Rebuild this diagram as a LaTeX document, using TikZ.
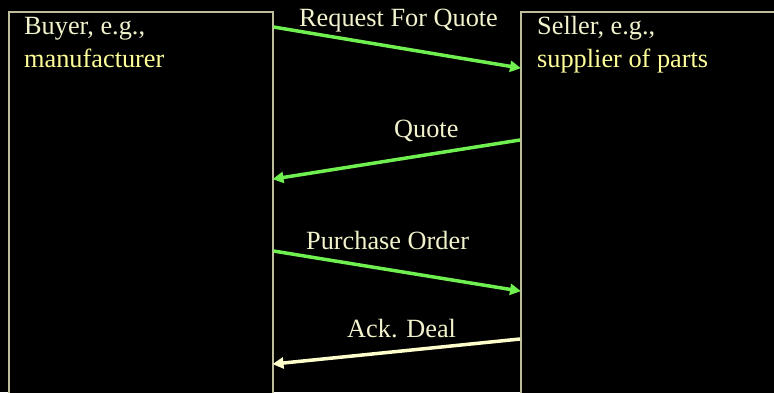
\documentclass[tikz,border=0pt]{standalone}
\usepackage{fontspec}
\setmainfont{Liberation Serif}
\usepackage{xcolor}
\usetikzlibrary{arrows.meta, positioning}
\definecolor{boxline}{HTML}{BEBE9E}
\definecolor{creamtext}{HTML}{F2F2CC}
\definecolor{yellowtext}{HTML}{FFFF99}
\definecolor{msggreen}{HTML}{70F050}
\definecolor{msgcream}{HTML}{FFFFCC}

\tikzset{
  party/.style={draw=boxline, line width=1.5pt, fill=black, anchor=north west, minimum height=420pt, inner sep=0pt},
  partytext/.style={anchor=base west, inner sep=0pt, align=left, font=\fontsize{26.3}{33}\selectfont},
  msglabel/.style={anchor=base west, inner sep=0pt, text=creamtext, font=\fontsize{26.3}{30}\selectfont},
  msg/.style={line width=3.5pt, -{Triangle[length=11pt, width=11pt]}, shorten >=-1pt},
}

\begin{document}
\begin{tikzpicture}[x=1pt, y=1pt]
        \fill[black] (0,0) rectangle (774,-392);
        \useasboundingbox (0,0) rectangle (774,-392);
        \clip (0,0) rectangle (774,-392);

        % the two parties
        \node[party, minimum width=264pt] (buyer) at (8,-11) {};
        \node[party, minimum width=300pt] (seller) at (520,-11) {};
        \node[partytext] (buyertext) at (24,-67) {\textcolor{creamtext}{Buyer, e.g.,}\\\textcolor{yellowtext}{manufacturer}};
        \node[partytext] (sellertext) at (537,-67) {\textcolor{creamtext}{Seller, e.g.,}\\\textcolor{yellowtext}{supplier of parts}};

        % end points of the messages
        \coordinate (rfqa) at ([yshift=-16pt]buyer.north east);
        \coordinate (rfqb) at ([yshift=-57pt]seller.north west);
        \coordinate (quotea) at ([yshift=-129pt]seller.north west);
        \coordinate (quoteb) at ([yshift=-168pt]buyer.north east);
        \coordinate (poa) at ([yshift=-240pt]buyer.north east);
        \coordinate (pob) at ([yshift=-280pt]seller.north west);
        \coordinate (acka) at ([yshift=-328pt]seller.north west);
        \coordinate (ackb) at ([yshift=-353pt]buyer.north east);

        \draw[msg, msggreen] (rfqa) -- (rfqb);
        \draw[msg, msggreen] (quotea) -- (quoteb);
        \draw[msg, msggreen] (poa) -- (pob);
        \draw[msg, msgcream] (acka) -- (ackb);

        \node[msglabel] (rfq) at (299,-26) {Request For Quote};
        \node[msglabel] (quote) at (394,-137) {Quote};
        \node[msglabel] (po) at (306,-249) {Purchase Order};
        \node[msglabel] (ack) at (347,-337) {Ack. Deal};
    \end{tikzpicture}
\end{document}
